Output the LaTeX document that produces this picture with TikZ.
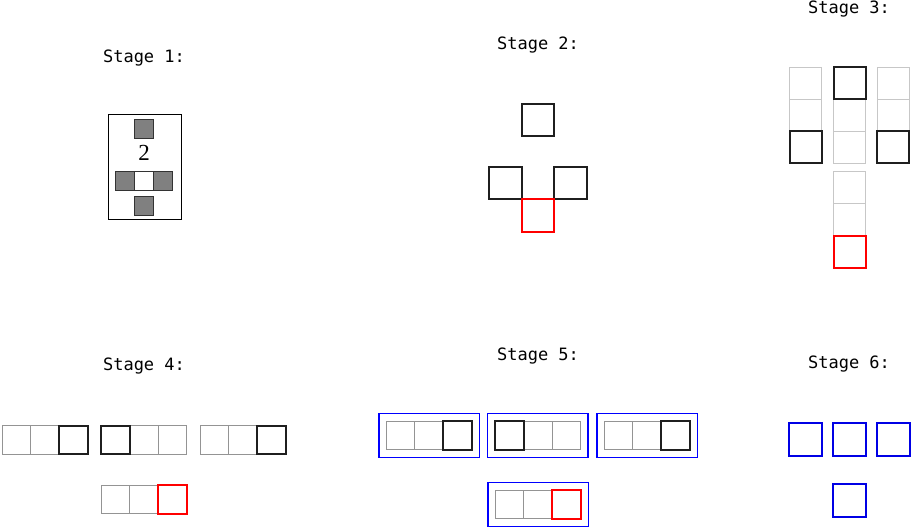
\documentclass[tikz,border=0pt]{standalone}
\usepackage{fontspec}
\setmonofont{DejaVu Sans Mono}
\newfontfamily\numfont{Liberation Serif}
\usetikzlibrary{fit}

\tikzset{
  stagelabel/.style={font=\ttfamily\fontsize{17}{20}\selectfont},
  cell/.style={draw,inner sep=0pt,minimum size=#1},
  cell/.default=28.7pt,
  ghost/.style={draw=black!22,line width=1pt},
  pale/.style={draw=black!42,line width=1pt},
  bold/.style={draw=black!88,line width=2pt},
  hit/.style={draw=red,line width=2pt},
  pick/.style={draw=blue!90!black,line width=2pt},
  group/.style={draw=blue,line width=1.3pt,inner sep=6.65pt},
  stone/.style={draw=black!80,fill=black!50,line width=0.8pt},
}

\begin{document}
\begin{tikzpicture}[x=1pt,y=-1pt]
  \useasboundingbox (0,0) rectangle (911,530);

  % stage labels
  \node[stagelabel] (lab1) at (144,58)  {Stage 1:};
  \node[stagelabel] (lab2) at (538,45)  {Stage 2:};
  \node[stagelabel] (lab3) at (849,9)   {Stage 3:};
  \node[stagelabel] (lab4) at (144,366) {Stage 4:};
  \node[stagelabel] (lab5) at (538,356) {Stage 5:};
  \node[stagelabel] (lab6) at (849,364) {Stage 6:};

  % stage 1
  \node[draw,line width=0.8pt,minimum width=73pt,minimum height=105pt] (card) at (144.5,166.5) {};
  \node[cell=19pt,stone] (s1n) at (144,128.5) {};
  \node[font=\numfont\fontsize{23}{26}\selectfont] (s1num) at (144,152.5) {2};
  \node[cell=19pt,stone] (s1w) at (125,180.5) {};
  \node[cell=19pt,draw=black!80,line width=0.8pt] (s1c) at (144,180.5) {};
  \node[cell=19pt,stone] (s1e) at (163,180.5) {};
  \node[cell=19pt,stone] (s1s) at (144,205.5) {};

  % stage 2
  \node[cell=32.5pt,bold] (s2n) at (538,120) {};
  \node[cell=32.5pt,bold] (s2w) at (505.5,183) {};
  \node[cell=32.5pt,bold] (s2e) at (570.5,183) {};
  \node[cell=32.5pt,hit]  (s2s) at (538,215.5) {};

  % stage 3
  \node[cell=32pt,ghost] (s3wa) at (805.5,83) {};
  \node[cell=32pt,ghost] (s3wb) at (805.5,115) {};
  \node[cell=32pt,ghost] (s3cb) at (849.5,115) {};
  \node[cell=32pt,ghost] (s3cc) at (849.5,147) {};
  \node[cell=32pt,ghost] (s3ea) at (893,83) {};
  \node[cell=32pt,ghost] (s3eb) at (893,115) {};
  \node[cell=32pt,ghost] (s3sa) at (849.5,187) {};
  \node[cell=32pt,ghost] (s3sb) at (849.5,219) {};
  \node[cell=32pt,bold]  (s3wc) at (805.5,147) {};
  \node[cell=32pt,bold]  (s3ca) at (849.5,83) {};
  \node[cell=32pt,bold]  (s3ec) at (893,147) {};
  \node[cell=32pt,hit]   (s3sc) at (849.5,251.5) {};

  % stage 4
  \node[cell,pale] (s4a1) at (16.5,440) {};
  \node[cell,pale] (s4a2) at (45,440) {};
  \node[cell,bold] (s4a3) at (73.5,440) {};
  \node[cell,pale] (s4b2) at (144,440) {};
  \node[cell,pale] (s4b3) at (172.5,440) {};
  \node[cell,bold] (s4b1) at (115.5,440) {};
  \node[cell,pale] (s4c1) at (214.5,440) {};
  \node[cell,pale] (s4c2) at (243,440) {};
  \node[cell,bold] (s4c3) at (271.5,440) {};
  \node[cell,pale] (s4d1) at (115.5,499.5) {};
  \node[cell,pale] (s4d2) at (144,499.5) {};
  \node[cell,hit]  (s4d3) at (172.5,499.5) {};

  % stage 5
  \node[cell,pale] (s5a1) at (400.5,435.5) {};
  \node[cell,pale] (s5a2) at (429,435.5) {};
  \node[cell,bold] (s5a3) at (457.5,435.5) {};
  \node[cell,pale] (s5b2) at (538,435.5) {};
  \node[cell,pale] (s5b3) at (566.5,435.5) {};
  \node[cell,bold] (s5b1) at (509.5,435.5) {};
  \node[cell,pale] (s5c1) at (618.5,435.5) {};
  \node[cell,pale] (s5c2) at (647,435.5) {};
  \node[cell,bold] (s5c3) at (675.5,435.5) {};
  \node[cell,pale] (s5d1) at (509.5,504.5) {};
  \node[cell,pale] (s5d2) at (538,504.5) {};
  \node[cell,hit]  (s5d3) at (566.5,504.5) {};
  \node[group,fit=(s5a1)(s5a3)] (s5a) {};
  \node[group,fit=(s5b1)(s5b3)] (s5b) {};
  \node[group,fit=(s5c1)(s5c3)] (s5c) {};
  \node[group,fit=(s5d1)(s5d3)] (s5d) {};

  % stage 6
  \node[cell=33pt,pick] (s6a) at (805,439.5) {};
  \node[cell=33pt,pick] (s6b) at (849.5,439.5) {};
  \node[cell=33pt,pick] (s6c) at (893.5,439.5) {};
  \node[cell=33pt,pick] (s6d) at (849.5,500.5) {};
\end{tikzpicture}
\end{document}
